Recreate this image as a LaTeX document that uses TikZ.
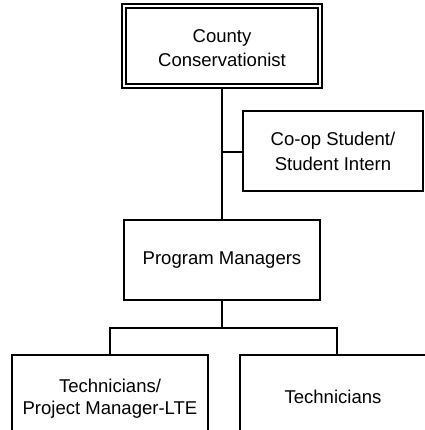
\documentclass[tikz,border=0pt]{standalone}
\usepackage{fontspec}
\setmainfont{Liberation Sans}
\begin{document}
\begin{tikzpicture}[x=1bp,y=-1bp,
  box/.style={draw,line width=2bp,rectangle,align=center,inner sep=0pt,
    font=\fontsize{18.6}{25}\selectfont},
  txt/.style={align=center,inner sep=0pt,font=\fontsize{18.6}{24}\selectfont},
  conn/.style={line width=2bp}]
\useasboundingbox (0,0) rectangle (425,430);
\begin{scope}
\clip (0,0) rectangle (425,430);
\node[box,double=white,double distance=2.2bp,line width=1.7bp,minimum width=196bp,minimum height=80bp] (cc) at (222,46) {};
\node[txt] (cct) at (222,48.5) {County\\Conservationist};
\node[box,minimum width=180bp,minimum height=80bp] (co) at (333,151) {Co-op Student/\\Student Intern};
\node[box,minimum width=196bp,minimum height=80bp] (pm) at (222,260) {Program Managers};
\node[box,minimum width=196bp,minimum height=88bp,font=\fontsize{18.6}{22}\selectfont] (lb) at (110,399) {Technicians/\\Project Manager-LTE};
\node[box,minimum width=186bp,minimum height=84bp] (rb) at (333,397) {Technicians};
\coordinate (b) at (222,152);
\coordinate (j) at (222,328);
\draw[conn] (cc.south) -- (pm.north);
\draw[conn] (b) -- (b -| co.west);
\draw[conn] (pm.south) -- (j);
\draw[conn] (lb.north) |- (j) -| ([xshift=4bp]rb.north);
\end{scope}
\end{tikzpicture}
\end{document}
